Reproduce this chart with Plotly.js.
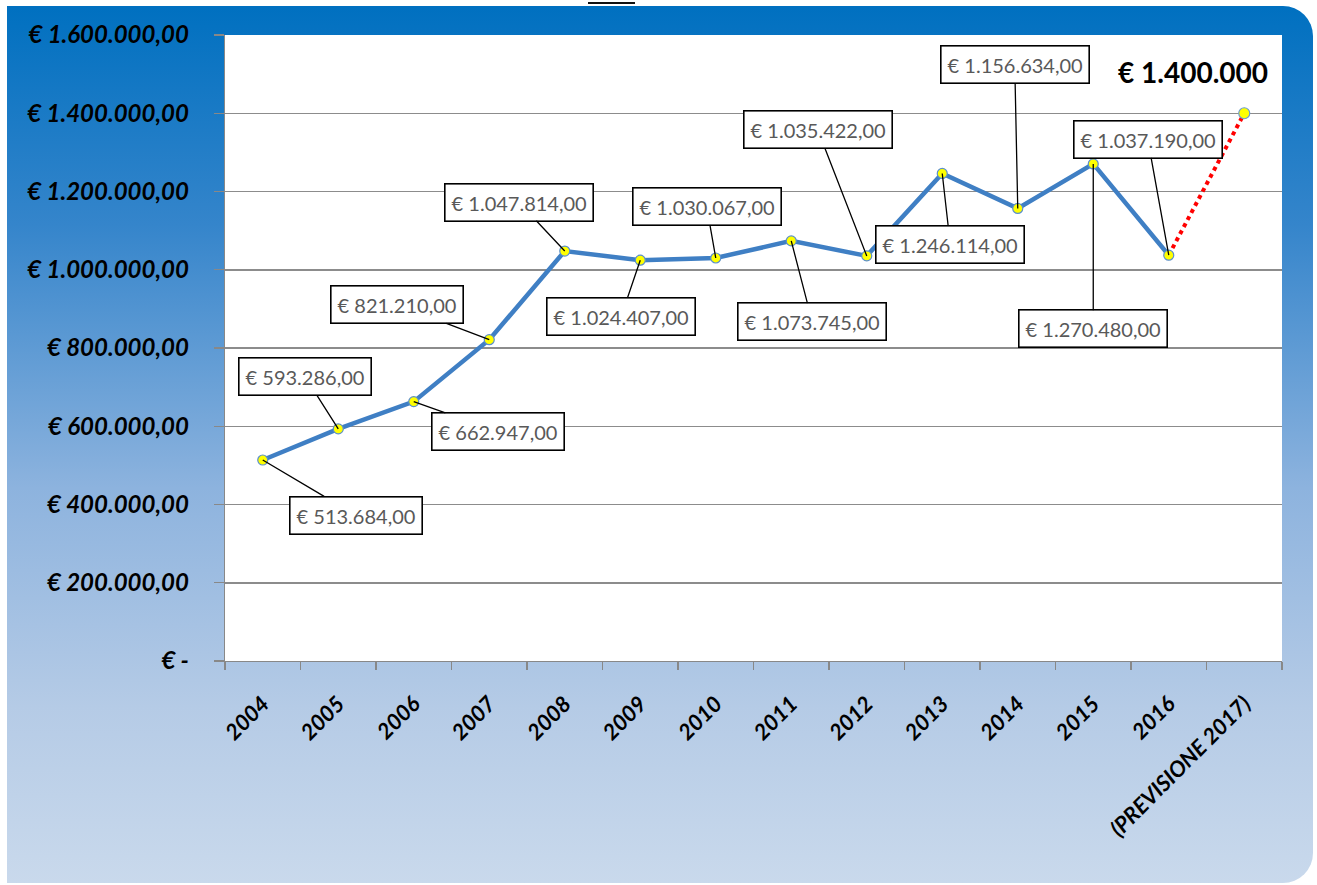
<!DOCTYPE html>
<html>
<head>
<meta charset="utf-8">
<script src="https://cdn.plot.ly/plotly-3.0.1.min.js"></script>
<style>
  html, body { margin: 0; padding: 0; width: 1317px; height: 885px; background: #ffffff; overflow: hidden; }
  #bg { position: absolute; left: 7px; top: 6px; width: 1306px; height: 877px;
        background: linear-gradient(to bottom, #0070C0 0%, #3585CB 25%, #8DB3DE 55%, #B5CBE6 80%, #C9D9EC 100%);
        border-radius: 0 30px 30px 0; }
  #mark { position: absolute; left: 588px; top: 2px; width: 47px; height: 2px; background: #111; }
  #chart { position: absolute; left: 0; top: 0; width: 1317px; height: 885px; }
</style>
</head>
<body>
<div id="bg"></div>
<div id="mark"></div>
<div id="chart"></div>
<script>
const years = ['2004','2005','2006','2007','2008','2009','2010','2011','2012','2013','2014','2015','2016'];
const values = [513684, 593286, 662947, 821210, 1047814, 1024407, 1030067, 1073745, 1035422, 1246114, 1156634, 1270480, 1037190];
const forecastCategory = '(PREVISIONE 2017)';
const forecastValue = 1400000;
const forecastLabel = '€ 1.400.000';
const yTickVals = [0, 200000, 400000, 600000, 800000, 1000000, 1200000, 1400000, 1600000];
const yTickText = ['€ -', '€ 200.000,00', '€ 400.000,00', '€ 600.000,00', '€ 800.000,00',
                   '€ 1.000.000,00', '€ 1.200.000,00', '€ 1.400.000,00', '€ 1.600.000,00'];

// label box offsets (pixels, relative to the point) – styling only
const labelAx = [93, -33, 84, -92, -46, -19, -9, 21, -49, 8, -3, 0, -21];
const labelAy = [55, -52, 30, -35, -49, 56, -51, 81, -126, 71, -144, 165, -116];

function euro(v) {
  const s = String(Math.round(v)).replace(/\B(?=(\d{3})+(?!\d))/g, '.');
  return '€ ' + s + ',00';
}

const categories = years.concat([forecastCategory]);

const forecastTrace = {
  x: [years[years.length - 1], forecastCategory],
  y: [values[values.length - 1], forecastValue],
  type: 'scatter',
  mode: 'lines+markers',
  line: { color: '#FF0000', width: 4, dash: 'dot' },
  marker: { color: ['rgba(0,0,0,0)', '#FFFF00'], size: 11, line: { color: ['rgba(0,0,0,0)', '#6A9BD1'], width: 1.2 } },
  hoverinfo: 'skip',
  cliponaxis: false
};

const mainTrace = {
  x: years,
  y: values,
  type: 'scatter',
  mode: 'lines+markers',
  line: { color: '#3F7FC4', width: 4.5 },
  marker: { color: '#FFFF00', size: 10, line: { color: '#5B8FCC', width: 1.2 } },
  hoverinfo: 'skip',
  cliponaxis: false
};

// category axis: annotations use the category index
const annotations = years.map((yr, i) => ({
  x: categories.indexOf(yr), y: values[i], xref: 'x', yref: 'y',
  text: euro(values[i]),
  showarrow: true, arrowhead: 0, arrowwidth: 1.3, arrowcolor: '#000000',
  ax: labelAx[i], ay: labelAy[i], axref: 'pixel', ayref: 'pixel',
  standoff: 0, startstandoff: 0,
  bgcolor: '#FFFFFF', bordercolor: '#000000', borderwidth: 1.6, borderpad: 6,
  font: { family: 'Lato, "Open Sans", sans-serif', size: 20, color: '#595959' }
}));
annotations.push({
  x: categories.indexOf(forecastCategory), y: forecastValue, xref: 'x', yref: 'y',
  text: '<b>' + forecastLabel + '</b>', showarrow: false,
  xshift: -51, yshift: 41,
  font: { family: 'Lato, "Open Sans", sans-serif', size: 28, color: '#000000' }
});

const layout = {
  width: 1317, height: 885,
  margin: { l: 225, r: 35, t: 35, b: 224, pad: 0 },
  paper_bgcolor: 'rgba(0,0,0,0)',
  plot_bgcolor: '#FFFFFF',
  showlegend: false,
  xaxis: {
    type: 'category',
    categoryorder: 'array', categoryarray: categories,
    range: [-0.5, categories.length - 0.5],
    tickson: 'boundaries',
    ticks: 'outside', ticklen: 8, tickcolor: '#888888', tickwidth: 1.3,
    showline: true, linecolor: '#888888', linewidth: 1.3,
    showgrid: false, zeroline: false,
    tickangle: -45,
    ticklabelstandoff: 20,
    tickfont: { family: 'Lato, sans-serif', size: 22, color: '#000000', weight: 'bold', style: 'italic' },
    fixedrange: true
  },
  yaxis: {
    range: [0, 1600000],
    tickvals: yTickVals, ticktext: yTickText,
    ticks: 'outside', ticklen: 10, tickcolor: '#888888', tickwidth: 1.3,
    showline: true, linecolor: '#888888', linewidth: 1.3,
    showgrid: true, gridcolor: '#8C8C8C', gridwidth: 1.5,
    zeroline: false,
    ticklabelstandoff: 20,
    tickfont: { family: 'Lato, sans-serif', size: 24, color: '#000000', weight: 'bold', style: 'italic' },
    fixedrange: true
  },
  annotations: annotations
};

Plotly.newPlot('chart', [forecastTrace, mainTrace], layout, { displayModeBar: false, staticPlot: true });
</script>
</body>
</html>
